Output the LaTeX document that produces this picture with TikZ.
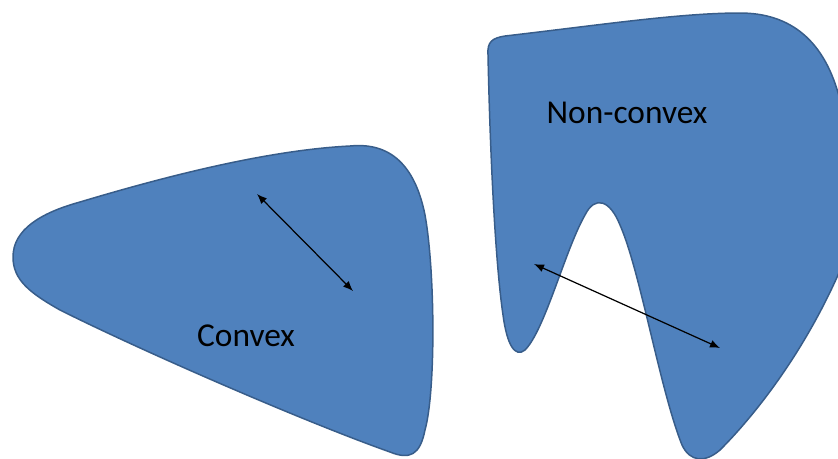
\documentclass[tikz,border=0pt]{standalone}
\usepackage{fontspec}
\setmainfont{Carlito}
\usetikzlibrary{arrows.meta}
\definecolor{shapeblue}{HTML}{4F81BD}
\definecolor{shapeedge}{HTML}{385D8A}
\begin{document}
\begin{tikzpicture}[x=0.02cm, y=-0.02cm, line cap=round, line join=round,
    region/.style={fill=shapeblue, draw=shapeedge, line width=0.85pt},
    chord/.style={line width=0.7pt, {Latex[length=2mm,width=1.6mm]}-{Latex[length=2mm,width=1.6mm]}},
    lbl/.style={font=\fontsize{19}{22}\selectfont, inner sep=0pt}]
  \useasboundingbox (0,0) rectangle (838,458);
  \clip (0,0) rectangle (838,458);
  % convex region
  \draw[region] (13,257) .. controls (13,230) and (40,213) .. (80,202)
    .. controls (170,175) and (270,150) .. (350,146)
    .. controls (390,142) and (415,165) .. (425,215)
    .. controls (435,270) and (436,390) .. (425,430)
    .. controls (420,455) and (410,460) .. (390,452)
    .. controls (300,420) and (140,350) .. (60,310)
    .. controls (30,293) and (13,280) .. (13,257) -- cycle;
  % non-convex region
  \draw[region] (488,55) .. controls (487,42) and (492,38) .. (505,36)
    .. controls (600,25) and (680,13) .. (740,13)
    .. controls (790,13) and (825,40) .. (840,100)
    .. controls (855,170) and (855,230) .. (838,275)
    .. controls (800,360) and (750,420) .. (720,450)
    .. controls (705,463) and (690,462) .. (682,445)
    .. controls (660,390) and (640,270) .. (620,225)
    .. controls (610,200) and (595,195) .. (585,215)
    .. controls (565,250) and (545,330) .. (525,350)
    .. controls (515,358) and (507,345) .. (503,315)
    .. controls (495,260) and (490,150) .. (488,55) -- cycle;
  \node[lbl] (convexlbl) at (246,336) {Convex};
  \node[lbl] (nonconvexlbl) at (627,113) {Non-convex};
  \coordinate (cA) at (257,194);
  \coordinate (cB) at (353,291);
  \coordinate (nA) at (534,264);
  \coordinate (nB) at (720,348);
  \draw[chord] (cA) -- (cB);
  \draw[chord] (nA) -- (nB);
\end{tikzpicture}
\end{document}
